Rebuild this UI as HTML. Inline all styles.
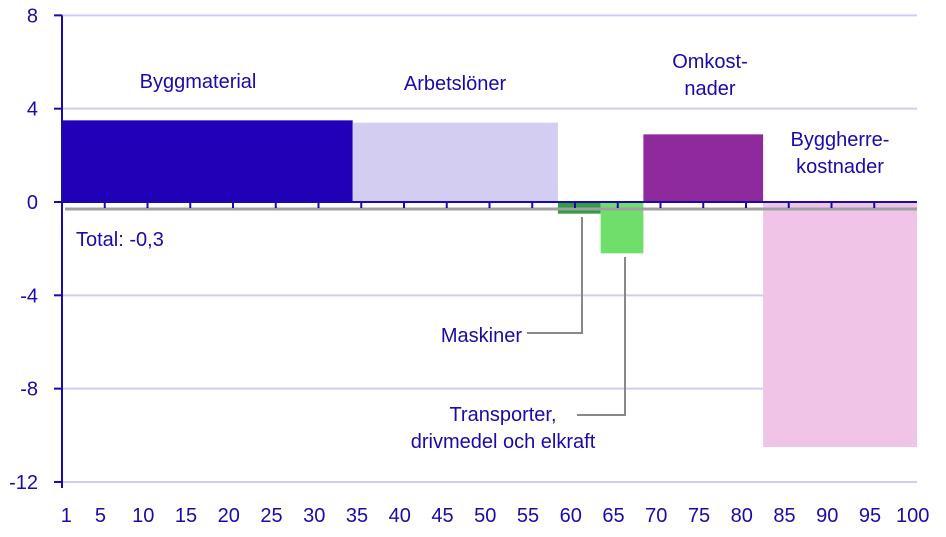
<!DOCTYPE html>
<html><head><meta charset="utf-8"><style>
body{margin:0;background:#fff;}
svg text{font-family:"Liberation Sans",sans-serif;font-size:20px;fill:#1a0aa8;}
</style></head><body>
<svg width="946" height="532" viewBox="0 0 946 532">
<g id="grid"></g><g id="bars"></g><g id="axes"></g><g id="labels"></g>
</svg>
<script>
const categories=["Byggmaterial","Arbetslöner","Maskiner","Transporter","Omkostnader","Byggherrekostnader"];
const starts=[0,34,58,63,68,82];
const ends=[34,58,63,68,82,100];
const values=[3.5,3.4,-0.5,-2.2,2.9,-10.5];
const colors=["#2200b8","#d3cdf2","#339c45","#6fde6a","#8f2a9c","#efc4e6"];
const total=-0.3;
const yTicks=[8,4,0,-4,-8,-12];
const xTickLabels=[1,5,10,15,20,25,30,35,40,45,50,55,60,65,70,75,80,85,90,95,100];
const X0=62,X1=917,Y0=202,YS=23.33;
const xs=v=>X0+v*(X1-X0)/100;
const ys=v=>Y0-v*YS;
const NS="http://www.w3.org/2000/svg";
function mk(tag,at,parent){const e=document.createElementNS(NS,tag);for(const k in at)e.setAttribute(k,at[k]);document.getElementById(parent).appendChild(e);return e;}
yTicks.forEach(t=>{
 if(t!==0){const l=mk("line",{x1:X0,x2:X1,y1:ys(t),y2:ys(t),stroke:"#d0cdf0","stroke-width":2},"grid");
 
 }
 const tk=mk("line",{x1:54,x2:X0,y1:ys(t),y2:ys(t),stroke:"#1a0aa8","stroke-width":2},"axes");
 
 
 const tx=mk("text",{x:38,y:ys(t)+7,"text-anchor":"end"},"axes");tx.textContent=t;
 
 
});
values.forEach((v,i)=>{
 const r=mk("rect",{x:xs(starts[i]),width:xs(ends[i])-xs(starts[i]),y:Math.min(ys(v),Y0),height:Math.abs(ys(v)-Y0),fill:colors[i]},"bars");
 
 
});
const tl=mk("line",{x1:65,x2:X1,y1:ys(total),y2:ys(total),stroke:"#a0a0a0","stroke-width":3},"bars");


const za=mk("line",{x1:X0,x2:X1,y1:Y0,y2:Y0,stroke:"#1a0aa8","stroke-width":2},"axes");


for(let v=5;v<=95;v+=5){const t=mk("line",{x1:xs(v),x2:xs(v),y1:Y0,y2:Y0+6,stroke:"#1a0aa8","stroke-width":2},"axes");
 
 }
const ya=mk("line",{x1:X0,x2:X0,y1:ys(8),y2:ys(-12)+6,stroke:"#1a0aa8","stroke-width":2},"axes");


xTickLabels.forEach(v=>{
 const t=mk("text",{x:xs(v-0.5),y:522,"text-anchor":"middle"},"axes");t.textContent=v;
 
 
});
function lab(lines,x,y,anchor,name){
 const t=mk("text",{x:x,y:y,"text-anchor":anchor},"labels");
 lines.forEach((s,i)=>{const sp=document.createElementNS(NS,"tspan");sp.setAttribute("x",x);sp.setAttribute("dy",i?27:0);sp.textContent=s;t.appendChild(sp);});
 
 
}
lab(["Byggmaterial"],198,88,"middle","label-byggmaterial");
lab(["Arbetslöner"],455,90,"middle","label-arbetsloner");
lab(["Omkost-","nader"],710,68,"middle","label-omkostnader");
lab(["Byggherre-","kostnader"],840,146,"middle","label-byggherrekostnader");
lab(["Total: -0,3"],76,246,"start","label-total");
lab(["Maskiner"],522,342,"end","label-maskiner");
lab(["Transporter,","drivmedel och elkraft"],503,421,"middle","label-transporter");
[[582,217,582,333,527,333],[625,257,625,415,577,415]].forEach(p=>{
 const l=mk("polyline",{points:`${p[0]},${p[1]} ${p[2]},${p[3]} ${p[4]},${p[5]}`,fill:"none",stroke:"#888","stroke-width":2},"labels");
 
 
});
</script>
</body></html>
